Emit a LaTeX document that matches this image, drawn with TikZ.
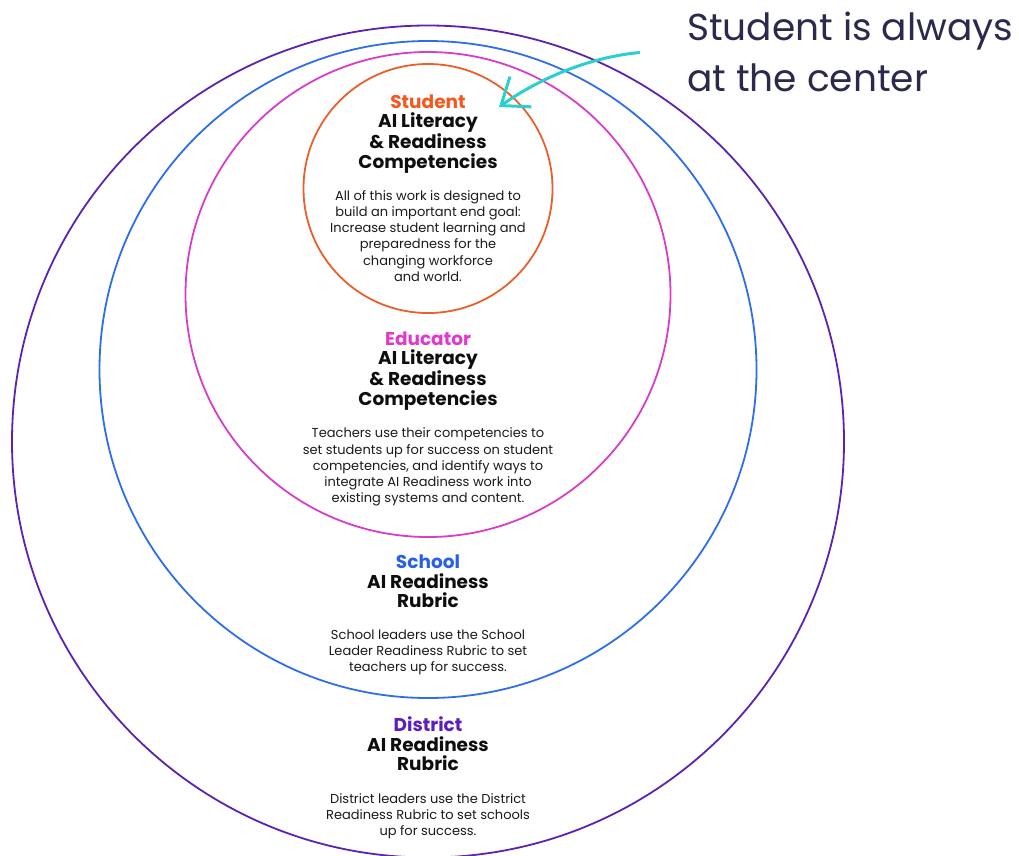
\documentclass[tikz,border=0pt]{standalone}
\usepackage{fontspec}
\setmainfont{Poppins}
\usepackage{tikz}
\usepackage{xcolor}
\usetikzlibrary{positioning,arrows.meta}

\definecolor{studentc}{HTML}{E8602C}
\definecolor{studenth}{HTML}{F2581F}
\definecolor{educatorc}{HTML}{D63EC9}
\definecolor{educatorh}{HTML}{E03ACB}
\definecolor{schoolc}{HTML}{2F6EEB}
\definecolor{schoolh}{HTML}{2A5FE8}
\definecolor{districtc}{HTML}{5B23B0}
\definecolor{districth}{HTML}{5E1EBF}
\definecolor{headc}{HTML}{0E0E0E}
\definecolor{bodyc}{HTML}{1A1A1A}
\definecolor{calloutc}{HTML}{2B2A4C}
\definecolor{arrowc}{HTML}{2CCFCB}

\begin{document}
\begin{tikzpicture}[x=1pt, y=-1pt, ring/.style = {draw, circle, line width=1.8pt, inner sep=0pt},
  head/.style = {align=center, inner sep=0pt, font=\fontsize{18.5}{19.5}\selectfont\bfseries, text=headc},
  body/.style = {align=center, inner sep=0pt, font=\fontsize{13}{16.2}\selectfont, text=bodyc},
  pointer/.style = {draw=arrowc, line width=3pt, -{Straight Barb[length=24pt, width=37pt]}}]
\useasboundingbox (0,0) rectangle (1019,855);

% rings, outermost first
\node[ring, draw=districtc, minimum size=832pt] (district) at (428,441.5) {};
\node[ring, draw=schoolc, minimum size=657pt] (school) at (428,369.5) {};
\node[ring, draw=educatorc, minimum size=485pt] (educator) at (428,294.5) {};
\node[ring, draw=studentc, minimum size=249pt] (student) at (428,188.5) {};

% labels
\node[head, anchor=north] (studenthead) at (428,94.5) {\textcolor{studenth}{Student}\\AI Literacy\\\& Readiness\\Competencies};
\node[body] (studenttext) [below=17pt of studenthead] {All of this work is designed to\\build an important end goal:\\Increase student learning and\\preparedness for the\\changing workforce\\and world.};

\node[head, anchor=north] (educatorhead) at (428,331.5) {\textcolor{educatorh}{Educator}\\AI Literacy\\\& Readiness\\Competencies};
\node[body] (educatortext) [below=17.5pt of educatorhead] {Teachers use their competencies to\\set students up for success on student\\competencies, and identify ways to\\integrate AI Readiness work into\\existing systems and content.};

\node[head, anchor=north] (schoolhead) at (428,555) {\textcolor{schoolh}{School}\\AI Readiness\\Rubric};
\node[body] (schooltext) [below=21.5pt of schoolhead] {School leaders use the School\\Leader Readiness Rubric to set\\teachers up for success.};

\node[head, anchor=north] (districthead) at (428,716.5) {\textcolor{districth}{District}\\AI Readiness\\Rubric};
\node[body] (districttext) [below=22.5pt of districthead] {District leaders use the District\\Readiness Rubric to set schools\\up for success.};

% callout
\node[anchor=north west, align=left, inner sep=0pt, font=\fontsize{37.5}{51}\selectfont, text=calloutc] (callout) at (687,11.5) {Student is always\\at the center};
\coordinate (arrowstart) at (640,52.5);
\coordinate (arrowtip) at (499,107);
\draw[pointer] (arrowstart) .. controls (590,57) and (540,78) .. (arrowtip);

\end{tikzpicture}
\end{document}
